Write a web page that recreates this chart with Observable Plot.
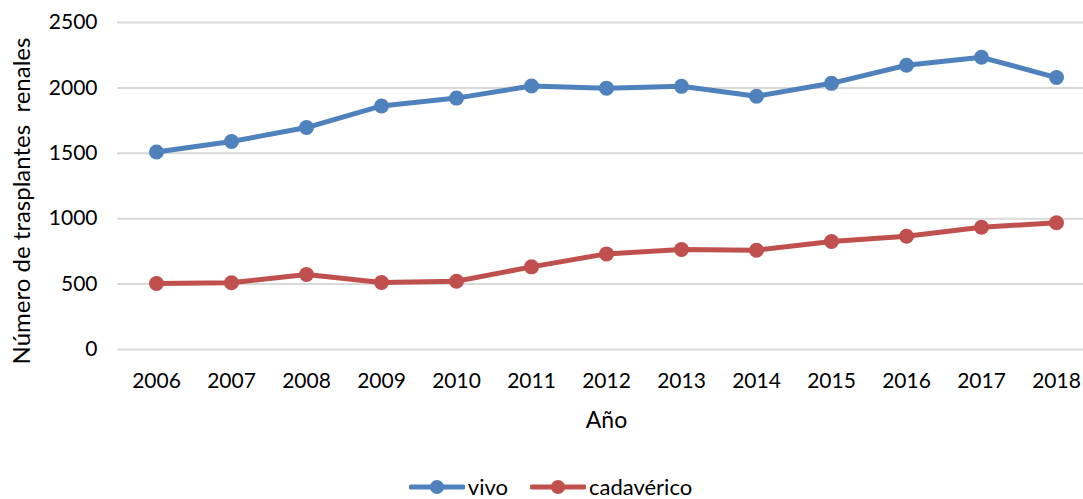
<!DOCTYPE html>
<html>
<head>
<meta charset="utf-8">
<script src="https://cdn.jsdelivr.net/npm/d3@7"></script>
<script src="https://cdn.jsdelivr.net/npm/@observablehq/plot@0.6"></script>
<style>
  body { margin: 0; background: #fff; font-family: Lato, "Noto Sans", sans-serif; }
  #legend { display: flex; justify-content: center; gap: 22px; padding-left: 18px; margin-top: 28px; font-size: 22px; line-height: 22px; color: #000; align-items: center; }
  .item { display: flex; align-items: center; gap: 3px; }
</style>
</head>
<body>
<div id="chart"></div>
<div id="legend"></div>
<script>
const years = [2006, 2007, 2008, 2009, 2010, 2011, 2012, 2013, 2014, 2015, 2016, 2017, 2018];
const vivo = [1510, 1590, 1697, 1862, 1922, 2015, 1998, 2012, 1936, 2035, 2173, 2234, 2079];
const cadaverico = [505, 510, 573, 512, 522, 632, 731, 764, 759, 826, 866, 935, 969];
const yTicks = [0, 500, 1000, 1500, 2000, 2500];
const seriesNames = ["vivo", "cadavérico"];
const colors = ["#4F81BD", "#C0504D"];
const yLabel = "Número de trasplantes  renales";
const xLabel = "Año";

const data = [];
years.forEach((yr, i) => {
  data.push({year: String(yr), value: vivo[i], serie: seriesNames[0]});
  data.push({year: String(yr), value: cadaverico[i], serie: seriesNames[1]});
});

const chart = Plot.plot({
  width: 1083,
  height: 448,
  marginLeft: 117,
  marginRight: 0,
  marginTop: 22,
  marginBottom: 99,
  style: {fontFamily: "Lato, 'Noto Sans', sans-serif", fontSize: "21px", color: "#000", background: "#fff"},
  x: {type: "point", domain: years.map(String), padding: 0, insetLeft: 37, insetRight: 26, label: null},
  y: {domain: [0, 2500], label: null},
  color: {domain: seriesNames, range: colors},
  marks: [
    Plot.ruleY(yTicks, {stroke: "#d9d9d9", strokeWidth: 2}),
    Plot.axisY(yTicks, {tickSize: 0, tickPadding: 20, label: null, fontSize: 21, tickFormat: d => String(d)}),
    Plot.axisX({tickSize: 0, tickPadding: 24, label: null, fontSize: 21}),
    Plot.line(data, {x: "year", y: "value", z: "serie", stroke: "serie", strokeWidth: 5}),
    Plot.dot(data, {x: "year", y: "value", fill: "serie", r: 7.5}),
    Plot.text([yLabel], {frameAnchor: "left", textAnchor: "middle", dx: -95, dy: 15, rotate: -90, fontSize: 24}),
    Plot.text([xLabel], {frameAnchor: "bottom", dx: 6, dy: 78, fontSize: 23})
  ]
});
document.getElementById("chart").appendChild(chart);

const legend = document.getElementById("legend");
seriesNames.forEach((name, i) => {
  const item = document.createElement("div");
  item.className = "item";
  item.innerHTML = `<svg width="56" height="16"><line x1="2" x2="54" y1="8" y2="8" stroke="${colors[i]}" stroke-width="5" stroke-linecap="round"/><circle cx="28" cy="8" r="7" fill="${colors[i]}"/></svg><span>${name}</span>`;
  legend.appendChild(item);
});
</script>
</body>
</html>
